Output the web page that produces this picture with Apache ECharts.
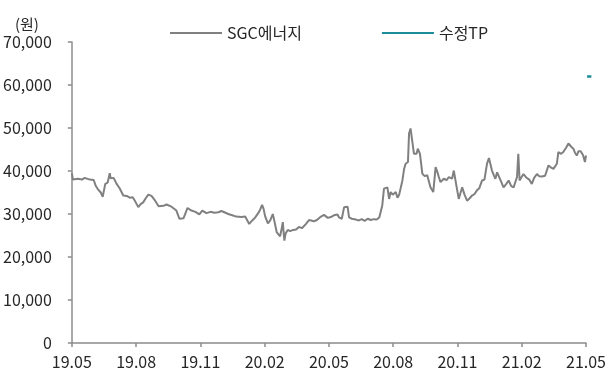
<!DOCTYPE html>
<html>
<head>
<meta charset="utf-8">
<script src="https://cdn.jsdelivr.net/npm/echarts@6/dist/echarts.min.js"></script>
<style>
html,body{margin:0;padding:0;background:#fff;}
#c{width:612px;height:374px;}
</style>
</head>
<body>
<div id="c"></div>
<script>
// x positions are months elapsed since 2019.05
var tickLabels = ['19.05','19.08','19.11','20.02','20.05','20.08','20.11','21.02','21.05'];
var stockMonths = [
0.00,0.05,0.28,0.47,0.60,0.84,1.02,1.12,1.21,1.35,1.44,1.49,1.56,1.67,1.77,1.81,1.95,2.09,2.23,2.40,
2.56,2.70,2.84,2.95,3.10,3.21,3.33,3.44,3.57,3.72,3.86,4.05,4.28,4.42,4.65,4.88,5.02,5.21,5.40,5.58,
5.77,5.95,6.09,6.28,6.47,6.65,6.84,6.98,7.12,7.30,7.49,7.67,7.91,8.09,8.28,8.42,8.56,8.70,8.79,8.88,
8.95,9.02,9.15,9.26,9.38,9.47,9.56,9.63,9.72,9.79,9.85,9.88,9.92,9.98,10.08,10.19,10.33,10.47,10.60,10.74,
10.93,11.07,11.16,11.30,11.44,11.63,11.77,11.86,11.95,12.09,12.23,12.40,12.47,12.60,12.71,12.87,12.94,13.07,13.26,13.40,
13.53,13.67,13.81,13.95,14.09,14.23,14.35,14.42,14.49,14.57,14.73,14.81,14.88,14.98,15.12,15.20,15.28,15.35,15.43,15.51,
15.58,15.69,15.74,15.81,15.89,15.97,16.09,16.15,16.25,16.36,16.47,16.59,16.67,16.74,16.87,16.98,17.06,17.13,17.21,17.36,
17.49,17.60,17.75,17.83,17.95,18.06,18.22,18.33,18.45,18.56,18.68,18.79,18.91,19.02,19.15,19.26,19.38,19.47,19.53,19.61,
19.70,19.77,19.85,19.92,20.00,20.15,20.28,20.39,20.51,20.62,20.78,20.84,20.90,20.98,21.08,21.21,21.35,21.47,21.58,21.71,
21.81,21.94,22.09,22.25,22.37,22.48,22.64,22.71,22.84,22.94,23.07,23.18,23.30,23.41,23.49,23.57,23.65,23.75,23.86,23.95,
24.00
];
var stockPrices = [
39500,38000,38200,38000,38400,38000,37900,36500,35800,35000,34000,33900,37000,37300,39500,38300,38400,37000,36000,34300,
34200,33800,33900,33000,31600,32300,32700,33600,34500,34200,33300,31800,31900,32200,31700,30800,28900,29000,31400,30800,
30500,29900,30800,30200,30500,30300,30400,30700,30400,30000,29700,29400,29300,29400,27700,28500,29200,30200,31000,32100,
31200,29500,27800,28500,30000,28000,25800,25400,24800,26500,28100,26000,23800,25500,26300,26000,26300,26400,27000,26700,
27700,28600,28900,28300,28600,29400,29800,30000,29100,29300,29700,29900,29200,28900,31600,31700,29200,28900,28700,28500,
28800,28400,28900,28600,28800,28700,29200,29600,32000,35900,36200,33500,35100,34500,35100,33800,34500,34700,37800,40500,
41700,42100,48700,49900,49500,44000,44000,45200,44000,39400,38800,39000,37500,36200,35100,40900,39800,38600,37400,38200,
37900,38600,38200,40100,36600,33500,36200,34500,33100,33600,34300,34600,35500,36000,37800,38000,41700,43000,43200,40100,
39000,38200,39700,39700,38000,36200,37000,37800,36500,36200,38600,44000,37800,38500,39300,38500,38000,37000,38400,39300,
38800,38700,38900,41300,40800,40500,41700,44400,44000,44400,45400,46400,45700,45200,44200,43600,44600,44600,43700,42100,
43600
];
var tpMonths = [24.05, 24.25];
var tpPrices = [62000, 62000];

function zip(a, b) { return a.map(function (v, i) { return [v, b[i]]; }); }

var font = 'Noto Sans CJK KR';
var axisColor = '#8c8c8c';
var textColor = '#262626';
var chart = echarts.init(document.getElementById('c'));
chart.setOption({
  animation: false,
  backgroundColor: '#fff',
  textStyle: { fontFamily: font },
  legend: {
    left: 165, top: 20,
    icon: 'rect',
    itemWidth: 52, itemHeight: 2, itemGap: 80,
    textStyle: { fontFamily: font, fontSize: 16, color: textColor },
    data: ['SGC에너지', '수정TP']
  },
  grid: [
    { left: 70, right: 26, top: 42, bottom: 31 },
    { left: 70, right: 18, top: 42, bottom: 31 }
  ],
  xAxis: [{
    type: 'value', min: 0, max: 24, interval: 3, gridIndex: 0,
    axisLine: { lineStyle: { color: axisColor, width: 1.5 } },
    axisTick: { show: true, length: 4, lineStyle: { color: axisColor, width: 1.5 } },
    splitLine: { show: false },
    axisLabel: {
      margin: 11, fontSize: 16, color: textColor, fontFamily: font,
      formatter: function (v) { return tickLabels[Math.round(v / 3)]; }
    }
  }, {
    // same month scale, extended grid to the right for the target-price mark
    type: 'value', min: 0, max: 24 * 524 / 516, gridIndex: 1, show: false,
    splitLine: { show: false }
  }],
  yAxis: [{
    type: 'value', min: 0, max: 70000, interval: 10000, gridIndex: 0,
    name: '(원)', nameLocation: 'end', nameGap: 10,
    nameTextStyle: { fontFamily: font, fontSize: 15, color: textColor, align: 'right', padding: [0, 33, 0, 0] },
    axisLine: { show: true, lineStyle: { color: axisColor, width: 1.5 } },
    axisTick: { show: true, length: 4, lineStyle: { color: axisColor, width: 1.5 } },
    splitLine: { show: false },
    axisLabel: {
      margin: 20, fontSize: 16, color: textColor, fontFamily: font,
      formatter: function (v) { return v === 0 ? '0' : v.toLocaleString('en-US'); }
    }
  }, {
    type: 'value', min: 0, max: 70000, gridIndex: 1, show: false,
    splitLine: { show: false }
  }],
  series: [
    {
      name: 'SGC에너지', type: 'line', symbol: 'none',
      xAxisIndex: 0, yAxisIndex: 0,
      data: zip(stockMonths, stockPrices),
      lineStyle: { color: '#808080', width: 2 }, itemStyle: { color: '#808080' }
    },
    {
      name: '수정TP', type: 'line', symbol: 'none',
      xAxisIndex: 1, yAxisIndex: 1,
      data: zip(tpMonths, tpPrices),
      lineStyle: { color: '#1b8d98', width: 2.5 }, itemStyle: { color: '#1b8d98' }
    }
  ]
});
</script>
</body>
</html>
